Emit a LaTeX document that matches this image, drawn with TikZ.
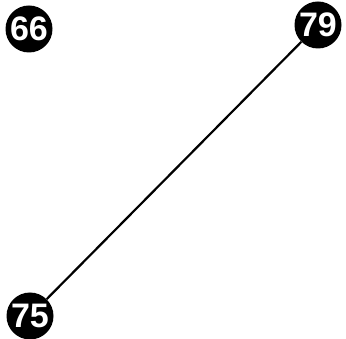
\documentclass[tikz,border=0pt]{standalone}
\usepackage{fontspec}
\setmainfont{Liberation Sans}
\begin{document}
\begin{tikzpicture}[x=1pt,y=-1pt,
  vert/.style={circle,fill=black,minimum size=47pt,inner sep=0pt,text=white,font=\fontsize{34}{34}\selectfont\bfseries},
  edge/.style={line width=2.2pt,black}]
\useasboundingbox (0,0) rectangle (346,339);
\node[vert] (n66) at (29,29) {66};
\node[vert] (n79) at (318,25) {79};
\node[vert] (n75) at (30,316) {75};
\draw[edge] (n79) -- (n75);
\end{tikzpicture}
\end{document}
